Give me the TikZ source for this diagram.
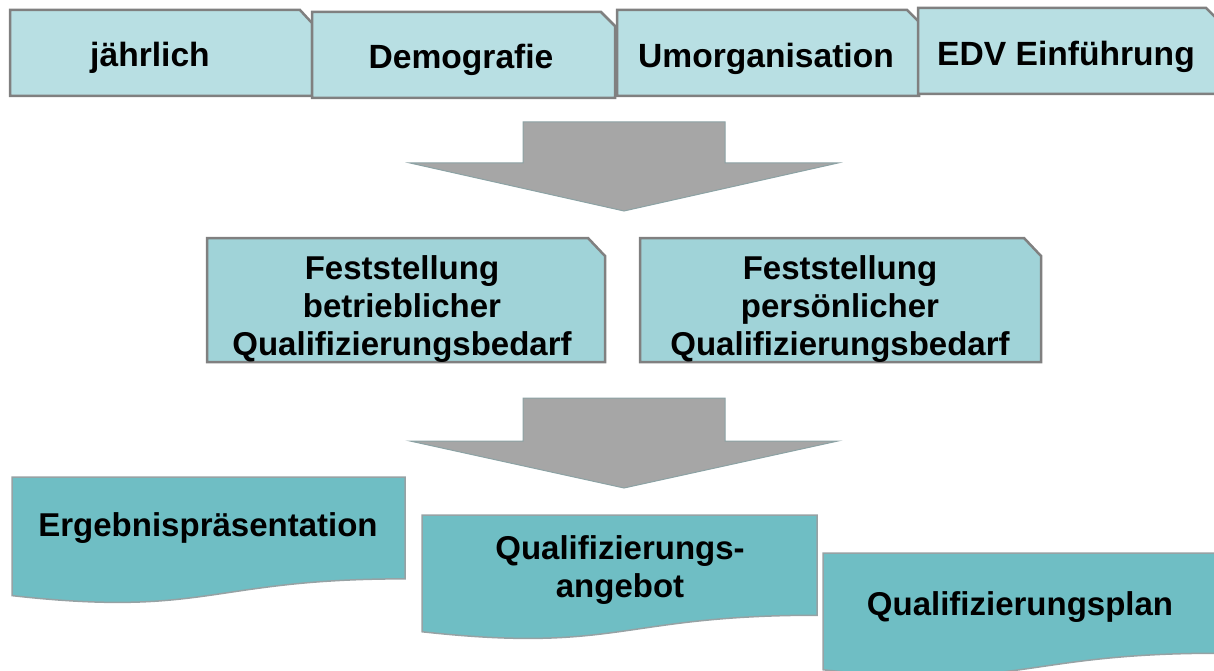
\documentclass[tikz,border=0pt]{standalone}
\usepackage{fontspec}
\setmainfont{Liberation Sans}
\definecolor{tabfill}{RGB}{184,223,227}
\definecolor{midfill}{RGB}{160,211,216}
\definecolor{docfill}{RGB}{111,190,196}
\definecolor{bordergray}{RGB}{128,128,128}
\definecolor{docborder}{RGB}{150,162,164}
\definecolor{arrowgray}{RGB}{166,166,166}
\definecolor{arrowedge}{RGB}{140,162,164}
\newcommand\docpath[5]{%
  \path[#1] (#2,#3) -- (#2+#4,#3) -- (#2+#4,#3+0.802*#5)
    .. controls (#2+0.5*#4,#3+0.802*#5) and (#2+0.5*#4,#3+1.1075*#5) .. (#2,#3+0.934*#5) -- cycle;}
\begin{document}
\begin{tikzpicture}[x=1pt,y=-1pt,
  tabbox/.style={fill=tabfill, draw=bordergray, line width=2.5pt, line join=miter},
  midbox/.style={fill=midfill, draw=bordergray, line width=2.5pt, line join=miter},
  docbox/.style={fill=docfill, draw=docborder, line width=1.5pt},
  bigarrow/.style={fill=arrowgray, draw=arrowedge, line width=1pt, line join=miter},
  lbl/.style={font=\fontsize{33}{38}\selectfont\bfseries, text=black, align=center, inner sep=0pt},
  toplbl/.style={lbl, font=\fontsize{33.6}{38}\selectfont\bfseries}
]
\useasboundingbox (0,0) rectangle (1214,671);
% top tabs
\path[tabbox] (10,10) -- (300,10) -- (312,23) -- (312,96) -- (10,96) -- cycle;
\path[tabbox] (312,12) -- (601,12) -- (615,26) -- (615,98) -- (312,98) -- cycle;
\path[tabbox] (617,10) -- (907,10) -- (919,22) -- (919,96) -- (617,96) -- cycle;
\path[tabbox] (918,8) -- (1206,8) -- (1220,22) -- (1220,94) -- (918,94) -- cycle;
\node[toplbl] (t1) at (150,58) {jährlich};
\node[toplbl] (t2) at (461,60) {Demografie};
\node[toplbl] (t3) at (766,59) {Umorganisation};
\node[toplbl] (t4) at (1066,57) {EDV Einführung};
% arrow 1
\path[bigarrow] (523,122) -- (725,122) -- (725,163) -- (838,163) -- (624,211) -- (410,163) -- (523,163) -- cycle;
% middle boxes
\path[midbox] (207,238) -- (588,238) -- (605,256) -- (605,362) -- (207,362) -- cycle;
\path[midbox] (640,238) -- (1024,238) -- (1041,256) -- (1041,362) -- (640,362) -- cycle;
\node[lbl] (m1) at (402,309) {Feststellung\\betrieblicher\\Qualifizierungsbedarf};
\node[lbl] (m2) at (840,309) {Feststellung\\persönlicher\\Qualifizierungsbedarf};
% arrow 2
\path[bigarrow] (523,398) -- (725,398) -- (725,441) -- (838,441) -- (624,488) -- (410,441) -- (523,441) -- cycle;
% bottom documents
\docpath{docbox}{12}{477}{393}{127}
\docpath{docbox}{422}{515}{395}{125}
\docpath{docbox}{823}{553}{395}{125}
\node[lbl] (d1) at (208,528) {Ergebnispräsentation};
\node[lbl] (d2) at (620,570) {Qualifizierungs-\\angebot};
\node[lbl] (d3) at (1020,607) {Qualifizierungsplan};
\end{tikzpicture}
\end{document}
